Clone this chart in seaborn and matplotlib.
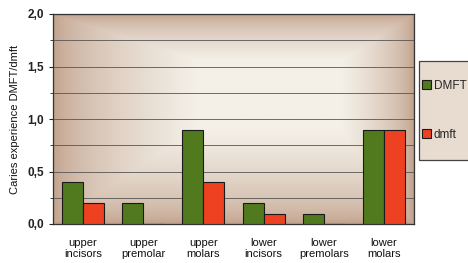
import numpy as np
import pandas as pd
import seaborn as sns
import matplotlib.pyplot as plt
from matplotlib.patches import Rectangle
from matplotlib.ticker import MultipleLocator, FuncFormatter

# data
groups = ['upper\nincisors', 'upper\npremolar', 'upper\nmolars',
          'lower\nincisors', 'lower\npremolars', 'lower\nmolars']
dmft_perm = [0.4, 0.2, 0.9, 0.2, 0.1, 0.9]
dmft_prim = [0.2, 0.0, 0.4, 0.1, 0.0, 0.9]
series = ['DMFT', 'dmft']

df = pd.DataFrame({
    'group': groups * 2,
    'value': dmft_perm + dmft_prim,
    'series': [series[0]] * len(groups) + [series[1]] * len(groups),
})

sns.set_style('white')
plt.rcParams['font.family'] = ['Liberation Sans', 'DejaVu Sans']

fig = plt.figure(figsize=(4.68, 2.63), dpi=100)
ax = fig.add_axes([53 / 468, 1 - 224 / 263, (414 - 53) / 468, (224 - 14) / 263])

# tan gradient background with lighter centre
nx, ny = 200, 120
xx = np.linspace(0, 1, nx)
yy = np.linspace(0, 1, ny)
X, Y = np.meshgrid(xx, yy)
d = np.minimum(np.minimum(X / 0.4, (1 - X) / 0.2), np.minimum(Y / 0.45, (1 - Y) / 0.22))
d = np.clip(d, 0, 1) ** 0.6
edge = np.array([192, 160, 138]) / 255
centre = np.array([244, 240, 232]) / 255
img = edge[None, None, :] * (1 - d[..., None]) + centre[None, None, :] * d[..., None]
ax.imshow(img, extent=[-0.5, 5.5, 0, 2.0], origin='lower', aspect='auto', zorder=0)

palette = {'DMFT': '#517a1e', 'dmft': '#ee4122'}
sns.barplot(data=df, x='group', y='value', hue='series', palette=palette,
            width=0.7, edgecolor='#1a1a1a', linewidth=0.8, saturation=1,
            ax=ax, zorder=3)

ax.set_xlim(-0.5, 5.5)
ax.set_ylim(0, 2.0)
ax.yaxis.set_major_locator(MultipleLocator(0.5))
ax.yaxis.set_minor_locator(MultipleLocator(0.25))
ax.yaxis.set_major_formatter(FuncFormatter(lambda v, p: f'{v:.1f}'.replace('.', ',')))
ax.grid(True, which='both', axis='y', color='#555555', linewidth=0.6, zorder=1)
ax.set_axisbelow(True)
ax.tick_params(axis='y', which='major', length=3, width=0.8, labelsize=8.5, left=True,
               labelcolor='#222222')
ax.tick_params(axis='y', which='minor', length=2, width=0.6, left=True)
ax.tick_params(axis='x', length=0, labelsize=8, pad=10, labelcolor='#111111')
for lab in ax.get_yticklabels():
    lab.set_fontweight('bold')
for sp in ax.spines.values():
    sp.set_color('#333333')
    sp.set_linewidth(0.9)
ax.set_xlabel('')
ax.set_ylabel('Caries experience DMFT/dmft', fontsize=8, labelpad=5, color='#111111')

# legend box drawn as a patch, legend itself frameless
box = Rectangle((419 / 468, 1 - 160 / 263), 60 / 468, 99 / 263,
                transform=fig.transFigure, facecolor='#e8dbcf',
                edgecolor='#444444', linewidth=0.9, zorder=0)
fig.patches.append(box)

handles, labels = ax.get_legend_handles_labels()
ax.legend_.remove()
leg = fig.legend(handles, labels, loc='upper left',
                 bbox_to_anchor=(422 / 468, 1 - 80 / 263),
                 frameon=False, fontsize=8.5, handlelength=0.8, handleheight=0.8,
                 handletextpad=0.2, labelspacing=3.1, borderpad=0,
                 borderaxespad=0)

fig.savefig('out.png', dpi=100)
